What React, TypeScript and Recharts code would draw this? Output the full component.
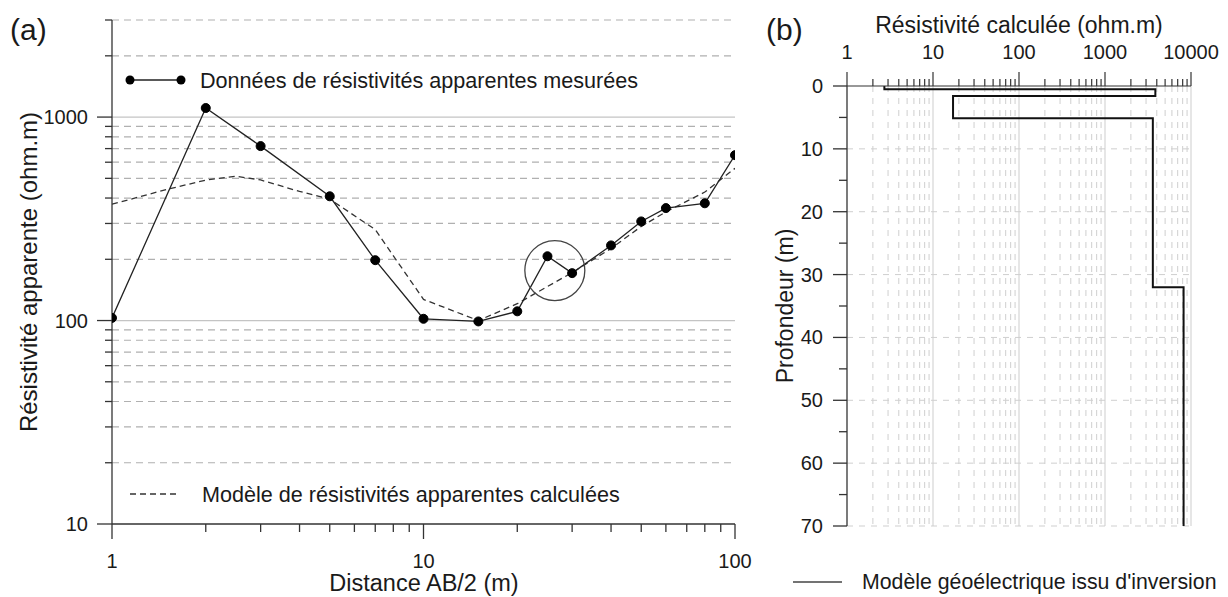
import React from 'react';
import { LineChart, Line, XAxis, YAxis, ReferenceLine, ReferenceDot } from 'recharts';

const FONT = '"Liberation Sans", Arial, Helvetica, sans-serif';

// ---------- Panel (a): apparent resistivity sounding curve ----------
const distanceAB2 = [1, 2, 3, 5, 7, 10, 15, 20, 25, 30, 40, 50, 60, 80, 100];
const measuredRho = [103, 1108, 720, 408, 198, 102, 99, 111, 207, 171, 234, 307, 357, 377, 650];

const calcAB2 = [1, 1.5, 2, 2.5, 3, 4, 5, 7, 10, 15, 20, 25, 30, 40, 50, 60, 80, 100];
const calcRho = [373, 441, 490, 512, 491, 431, 395, 280, 127, 100, 121, 147, 172, 226, 290, 342, 428, 560];

const xTicksA = [1, 2, 3, 4, 5, 6, 7, 8, 9, 10, 20, 30, 40, 50, 60, 70, 80, 90, 100];
const xMajorA = [1, 10, 100];
const yTicksA = [10, 20, 30, 40, 50, 60, 70, 80, 90, 100, 200, 300, 400, 500, 600, 700, 800, 900, 1000, 2000, 3000];
const yMajorA = [10, 100, 1000];
const dashedGridA = [20, 30, 40, 50, 60, 70, 80, 90, 200, 300, 400, 500, 600, 700, 800, 900, 2000, 3000];
const solidGridA = [100, 1000];
const anomalyAB2 = 26.4;
const anomalyRho = 176;

// ---------- Panel (b): inverted geoelectric model ----------
const modelRho = [2.72, 2.72, 3850, 3850, 17.1, 17.1, 3600, 3600, 8200, 8200];
const modelDepth = [0, 0.5, 0.5, 1.6, 1.6, 5.15, 5.15, 32, 32, 70];

const rhoTicksB = [
  1, 2, 3, 4, 5, 6, 7, 8, 9,
  10, 20, 30, 40, 50, 60, 70, 80, 90,
  100, 200, 300, 400, 500, 600, 700, 800, 900,
  1000, 2000, 3000, 4000, 5000, 6000, 7000, 8000, 9000,
  10000,
];
const rhoMajorB = [1, 10, 100, 1000, 10000];
const rhoMinorGridB = rhoTicksB.filter((v) => !rhoMajorB.includes(v));
const rhoDecadeGridB = [10, 100, 1000, 10000];
const depthTicksB = [0, 5, 10, 15, 20, 25, 30, 35, 40, 45, 50, 55, 60, 65, 70];
const depthMajorB = [0, 10, 20, 30, 40, 50, 60, 70];
const depthGridB = [10, 20, 30, 40, 50, 60, 70];

const AXIS = '#333';
const TXT = '#1a1a1a';
const TICK_FS = 20;

const XTickA = (props: any) => {
  const { x, y, payload } = props;
  const major = xMajorA.includes(payload.value);
  return (
    <g>
      <line x1={x} x2={x} y1={y} y2={y + (major ? 15 : 8)} stroke={AXIS} strokeWidth={1.3} />
      {major && (
        <text x={x} y={y + 44} textAnchor="middle" fontSize={TICK_FS} fill={TXT} fontFamily={FONT}>
          {payload.value}
        </text>
      )}
    </g>
  );
};

const YTickA = (props: any) => {
  const { x, y, payload } = props;
  const major = yMajorA.includes(payload.value);
  return (
    <g>
      <line x1={x} x2={x - (major ? 15 : 7)} y1={y} y2={y} stroke={AXIS} strokeWidth={1.3} />
      {major && (
        <text x={x - 24} y={y + 7} textAnchor="end" fontSize={TICK_FS} fill={TXT} fontFamily={FONT}>
          {payload.value}
        </text>
      )}
    </g>
  );
};

const XTickB = (props: any) => {
  const { x, y, payload } = props;
  const major = rhoMajorB.includes(payload.value);
  return (
    <g>
      <line x1={x} x2={x} y1={y} y2={y - (major ? 14 : 7)} stroke={AXIS} strokeWidth={1.2} />
      {major && (
        <text x={x} y={y - 27} textAnchor="middle" fontSize={TICK_FS} fill={TXT} fontFamily={FONT}>
          {payload.value}
        </text>
      )}
    </g>
  );
};

const YTickB = (props: any) => {
  const { x, y, payload } = props;
  const major = depthMajorB.includes(payload.value);
  return (
    <g>
      <line x1={x} x2={x - (major ? 14 : 8)} y1={y} y2={y} stroke={AXIS} strokeWidth={1.3} />
      {major && (
        <text x={x - 24} y={y + 7} textAnchor="end" fontSize={TICK_FS} fill={TXT} fontFamily={FONT}>
          {payload.value}
        </text>
      )}
    </g>
  );
};

export default function App() {
  const measured = distanceAB2.map((x, i) => ({ x, rho: measuredRho[i] }));
  const calc = calcAB2.map((x, i) => ({ x, rho: calcRho[i] }));
  const model = modelRho.map((rho, i) => ({ rho, depth: modelDepth[i] }));

  return (
    <div style={{ position: 'absolute', left: 0, top: 0, width: 1228, height: 597, background: '#fff', fontFamily: FONT, overflow: 'hidden' }}>
      <div style={{ position: 'absolute', left: 0, top: 0 }}>
        <LineChart width={760} height={597} margin={{ top: 20, right: 25, bottom: 0, left: 0 }}>
          <XAxis
            type="number"
            dataKey="x"
            scale="log"
            domain={[1, 100]}
            allowDataOverflow
            ticks={xTicksA}
            interval={0}
            height={73}
            tickSize={0}
            tickMargin={0}
            tickLine={false}
            tick={(p: any) => <XTickA {...p} />}
            axisLine={{ stroke: AXIS, strokeWidth: 1.3 }}
          />
          <YAxis
            type="number"
            scale="log"
            domain={[10, 3000]}
            allowDataOverflow
            ticks={yTicksA}
            interval={0}
            width={112}
            tickSize={0}
            tickMargin={0}
            tickLine={false}
            tick={(p: any) => <YTickA {...p} />}
            axisLine={{ stroke: AXIS, strokeWidth: 1.3 }}
          />
          {dashedGridA.map((v) => (
            <ReferenceLine key={'d' + v} y={v} stroke="#b0b0b0" strokeWidth={1.2} strokeDasharray="7 5" />
          ))}
          {solidGridA.map((v) => (
            <ReferenceLine key={'s' + v} y={v} stroke="#c4c4c4" strokeWidth={1.3} />
          ))}
          <Line
            data={calc}
            dataKey="rho"
            stroke="#333"
            strokeWidth={1.3}
            strokeDasharray="6 4"
            dot={false}
            isAnimationActive={false}
          />
          <Line
            data={measured}
            dataKey="rho"
            stroke="#222"
            strokeWidth={1.3}
            dot={{ r: 4.5, fill: '#000', stroke: '#000', strokeWidth: 1 }}
            isAnimationActive={false}
          />
          <ReferenceDot x={anomalyAB2} y={anomalyRho} r={30} fill="none" stroke="#444" strokeWidth={1.3} />
        </LineChart>
      </div>

      <div style={{ position: 'absolute', left: 760, top: 0 }}>
        <LineChart width={468} height={597} data={model} margin={{ top: 0, right: 37, bottom: 71, left: 0 }}>
          <XAxis
            orientation="top"
            type="number"
            dataKey="rho"
            scale="log"
            domain={[1, 10000]}
            allowDataOverflow
            ticks={rhoTicksB}
            interval={0}
            height={86}
            tickSize={0}
            tickMargin={0}
            tickLine={false}
            tick={(p: any) => <XTickB {...p} />}
            axisLine={{ stroke: AXIS, strokeWidth: 1.2 }}
          />
          <YAxis
            type="number"
            domain={[0, 70]}
            reversed
            ticks={depthTicksB}
            interval={0}
            width={87}
            tickSize={0}
            tickMargin={0}
            tickLine={false}
            tick={(p: any) => <YTickB {...p} />}
            axisLine={{ stroke: AXIS, strokeWidth: 1.3 }}
          />
          {rhoMinorGridB.map((v) => (
            <ReferenceLine key={'m' + v} x={v} stroke="#cfcfcf" strokeWidth={1} strokeDasharray="6 6" />
          ))}
          {rhoDecadeGridB.map((v) => (
            <ReferenceLine key={'g' + v} x={v} stroke="#d9d9d9" strokeWidth={1.3} />
          ))}
          {depthGridB.map((v) => (
            <ReferenceLine key={'h' + v} y={v} stroke="#cfcfcf" strokeWidth={1} strokeDasharray="6 6" />
          ))}
          <Line dataKey="depth" stroke="#111" strokeWidth={2} dot={false} isAnimationActive={false} />
        </LineChart>
      </div>

      <svg width={1228} height={597} style={{ position: 'absolute', left: 0, top: 0, pointerEvents: 'none' }}>
        <g fontFamily={FONT} fill={TXT}>
          <text x={10} y={40} fontSize={30}>(a)</text>
          <text x={766} y={40} fontSize={30}>(b)</text>
          <text x={28} y={272} fontSize={24} textAnchor="middle" dominantBaseline="central" transform="rotate(-90 28 272)">
            Résistivité apparente (ohm.m)
          </text>
          <text x={424} y={583} fontSize={23.5} textAnchor="middle" dominantBaseline="central">
            Distance AB/2 (m)
          </text>
          <text x={1019} y={25} fontSize={23} textAnchor="middle" dominantBaseline="central">
            Résistivité calculée (ohm.m)
          </text>
          <text x={785} y={306} fontSize={23} textAnchor="middle" dominantBaseline="central" transform="rotate(-90 785 306)">
            Profondeur (m)
          </text>
          <text x={200} y={80} fontSize={21.6} dominantBaseline="central">Données de résistivités apparentes mesurées</text>
          <text x={202} y={494} fontSize={21.6} dominantBaseline="central">Modèle de résistivités apparentes calculées</text>
          <text x={862} y={582} fontSize={21.3} dominantBaseline="central">Modèle géoélectrique issu d'inversion</text>
        </g>
        <line x1={130} x2={181} y1={80} y2={80} stroke="#222" strokeWidth={1.3} />
        <circle cx={130} cy={80} r={4.5} fill="#000" />
        <circle cx={181} cy={80} r={4.5} fill="#000" />
        <line x1={130} x2={176} y1={494} y2={494} stroke="#333" strokeWidth={1.3} strokeDasharray="6 4" />
        <line x1={793} x2={842} y1={582} y2={582} stroke="#444" strokeWidth={1.4} />
      </svg>
    </div>
  );
}
